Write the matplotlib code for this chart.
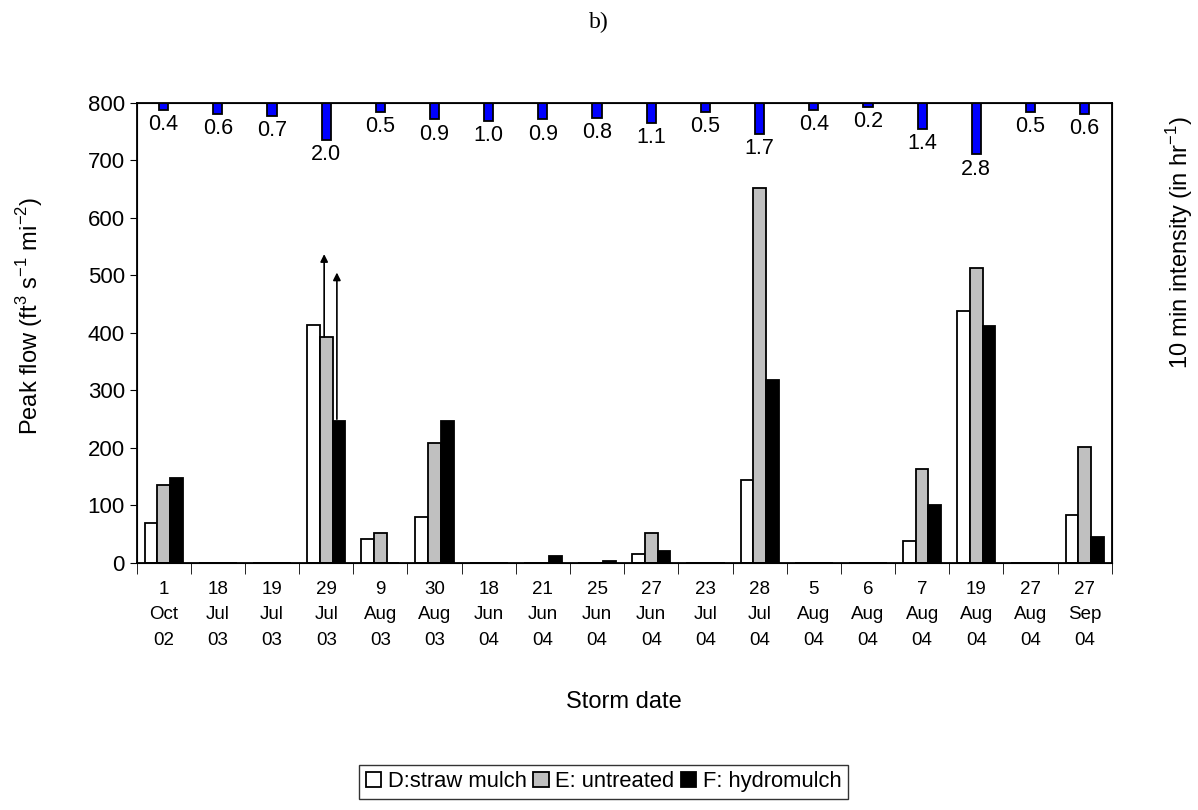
import numpy as np
import matplotlib.pyplot as plt

plt.rcParams['font.family'] = ['Liberation Sans', 'DejaVu Sans']
plt.rcParams['mathtext.fontset'] = 'custom'
plt.rcParams['mathtext.rm'] = 'Liberation Sans'

# fechas de tormenta (dia / mes / año)
dias = ["1", "18", "19", "29", "9", "30", "18", "21", "25", "27",
        "23", "28", "5", "6", "7", "19", "27", "27"]
meses = ["Oct", "Jul", "Jul", "Jul", "Aug", "Aug", "Jun", "Jun", "Jun", "Jun",
         "Jul", "Jul", "Aug", "Aug", "Aug", "Aug", "Aug", "Sep"]
anios = ["02", "03", "03", "03", "03", "03", "04", "04", "04", "04",
         "04", "04", "04", "04", "04", "04", "04", "04"]

# caudal pico (ft3 s-1 mi-2)
paja = [70, 0, 0, 413, 42, 80, 0, 0, 0, 15, 0, 145, 0, 0, 38, 438, 0, 83]
sin_tratar = [135, 0, 0, 393, 52, 208, 0, 0, 0, 52, 0, 652, 0, 0, 163, 512, 0, 202]
hidromulch = [148, 0, 0, 246, 0, 246, 0, 12, 3, 20, 0, 318, 0, 0, 100, 412, 0, 45]

# intensidad 10 min (in hr-1)
intensidad = [0.4, 0.6, 0.7, 2.0, 0.5, 0.9, 1.0, 0.9, 0.8, 1.1,
              0.5, 1.7, 0.4, 0.2, 1.4, 2.8, 0.5, 0.6]

# flechas en 29 Jul 03 (valores superan lo medido)
flecha_inicio = [393, 250]
flecha_fin = [537, 505]

n = len(dias)
centros = np.arange(n) + 0.5
w = 0.235

fig = plt.figure(figsize=(11.98, 8.10), dpi=100)
ax = fig.add_axes([0.114, 0.305, 0.814, 0.568])

ax.bar(centros - w, paja, w, color="white", edgecolor="black", linewidth=1.3,
       label="D:straw mulch")
ax.bar(centros, sin_tratar, w, color="#c0c0c0", edgecolor="black", linewidth=1.3,
       label="E: untreated")
ax.bar(centros + w, hidromulch, w, color="black", edgecolor="black", linewidth=1.3,
       label="F: hydromulch")

# flechas
i = dias.index("29")
xs_flecha = [centros[i] - w / 2 + 0.08, centros[i] + w / 2 + 0.08]
for x, y0, y1 in zip(xs_flecha, flecha_inicio, flecha_fin):
    ax.annotate("", xy=(x, y1), xytext=(x, y0),
                arrowprops=dict(arrowstyle="-|>", color="black", lw=1.2,
                                mutation_scale=11, shrinkA=0, shrinkB=0))

ax.set_xlim(0, n)
ax.set_ylim(0, 800)
ax.set_yticks(range(0, 801, 100))
ax.tick_params(axis="y", labelsize=16, length=5, direction="out")
ax.set_xticks(centros)
ax.set_xticklabels([f"{d}\n{m}\n{a}" for d, m, a in zip(dias, meses, anios)],
                   fontsize=13.5, linespacing=1.65)
ax.tick_params(axis="x", length=0, pad=13)
ax.set_xticks(np.arange(n + 1), minor=True)
ax.tick_params(axis="x", which="minor", length=8, direction="out")
for s in ax.spines.values():
    s.set_linewidth(1.3)

fig.text(0.025, 0.61, r"Peak flow (ft$^{3}$ s$^{\mathregular{-1}}$ mi$^{\mathregular{-2}}$)",
         rotation=90, ha="center", va="center", fontsize=17)
ax.set_xlabel("Storm date", fontsize=17, labelpad=30)

# eje secundario: intensidad invertida
ax2 = ax.twinx()
ax2.bar(centros, intensidad, 0.17, color="#0000ff", edgecolor="black", linewidth=1.3)
ax2.set_ylim(25, 0)
ax2.set_xlim(0, n)
ax2.set_yticks([])
for x, v in zip(centros, intensidad):
    ax2.annotate(f"{v:.1f}", xy=(x, v), xytext=(0, -3), textcoords="offset points",
                 ha="center", va="top", fontsize=15.5)
fig.text(0.985, 0.70, r"10 min intensity (in hr$^{\mathregular{-1}}$)", rotation=90,
         ha="center", va="center", fontsize=17)

fig.text(0.5, 0.972, "b)", ha="center", va="center", fontsize=17,
         family="Liberation Serif")

leg = fig.legend(loc="center", bbox_to_anchor=(0.504, 0.035), ncol=3,
                 fontsize=15.8, frameon=True, fancybox=False, edgecolor="black",
                 handlelength=0.7, handleheight=0.7, handletextpad=0.3,
                 columnspacing=0.3, borderpad=0.3, borderaxespad=0.2)
leg.get_frame().set_linewidth(1.0)

fig.savefig("out.png", dpi=100)
